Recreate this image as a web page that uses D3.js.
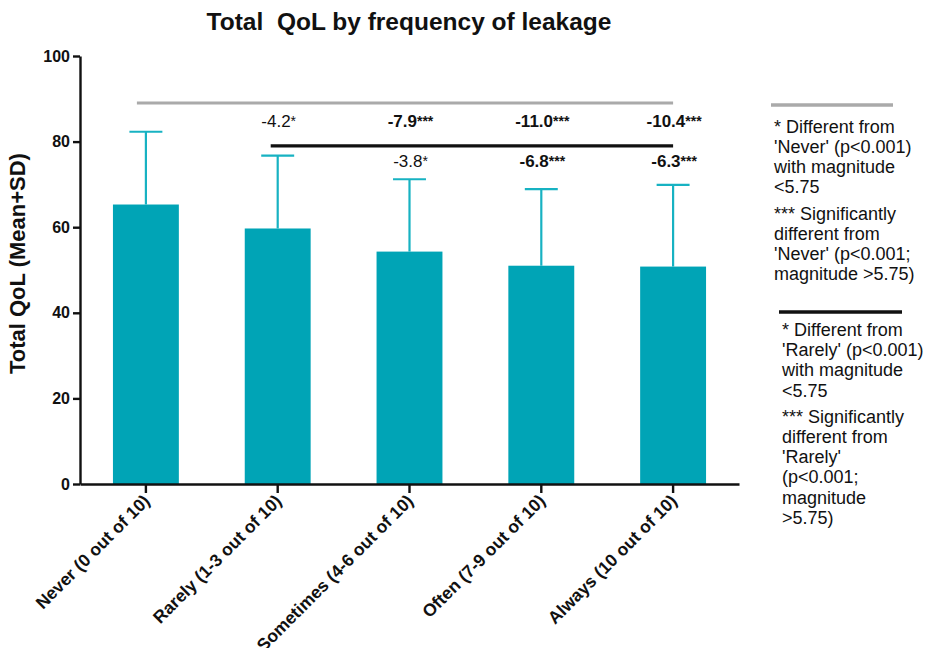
<!DOCTYPE html>
<html>
<head>
<meta charset="utf-8">
<script src="https://cdn.jsdelivr.net/npm/d3@7"></script>
<style>
  body { margin: 0; background: #fff; }
  svg { display: block; font-family: "Liberation Sans", Arial, sans-serif; }
</style>
</head>
<body>
<svg id="chart" width="930" height="648"></svg>
<script>
// ---- data ----
const categories = ["Never (0 out of 10)", "Rarely (1-3 out of 10)", "Sometimes (4-6 out of 10)", "Often (7-9 out of 10)", "Always (10 out of 10)"];
const means = [65.3, 59.7, 54.3, 51.0, 50.8];
const sds   = [17.0, 17.0, 16.9, 17.9, 19.1];
const yTicks = [0, 20, 40, 60, 80, 100];

// comparisons vs 'Never' (gray bar) and vs 'Rarely' (black bar)
const vsNeverCats   = ["Rarely (1-3 out of 10)", "Sometimes (4-6 out of 10)", "Often (7-9 out of 10)", "Always (10 out of 10)"];
const vsNeverDiff   = ["-4.2", "-7.9", "-11.0", "-10.4"];
const vsNeverSig    = ["*", "***", "***", "***"];
const vsRarelyCats  = ["Sometimes (4-6 out of 10)", "Often (7-9 out of 10)", "Always (10 out of 10)"];
const vsRarelyDiff  = ["-3.8", "-6.8", "-6.3"];
const vsRarelySig   = ["*", "***", "***"];

const legendNever  = ["* Different from", "'Never' (p<0.001)", "with magnitude", "<5.75", "*** Significantly", "different from", "'Never' (p<0.001;", "magnitude >5.75)"];
const legendRarely = ["* Different from", "'Rarely' (p<0.001)", "with magnitude", "<5.75", "*** Significantly", "different from", "'Rarely'", "(p<0.001;", "magnitude", ">5.75)"];

// ---- layout ----
const svg = d3.select("#chart");
const teal = "#00a4b6";
const tealErr = "#17b2c2";

const x = d3.scaleBand().domain(categories).range([80, 739]).paddingInner(0.5).paddingOuter(0.25);
const y = d3.scaleLinear().domain([0, 100]).range([484, 56]);

// title
svg.append("text")
  .attr("x", 409).attr("y", 30)
  .attr("text-anchor", "middle")
  .attr("font-size", 24.5).attr("font-weight", "bold")
  .attr("fill", "#111")
  .style("white-space", "pre")
  .text("Total  QoL by frequency of leakage");

// bars
svg.append("g").selectAll("rect")
  .data(categories)
  .join("rect")
  .attr("x", d => x(d))
  .attr("width", x.bandwidth())
  .attr("y", (d, i) => y(means[i]))
  .attr("height", (d, i) => y(0) - y(means[i]))
  .attr("fill", teal);

// error bars
const eb = svg.append("g").attr("stroke", tealErr).attr("stroke-width", 2.2).attr("fill", "none");
categories.forEach((c, i) => {
  const cx = x(c) + x.bandwidth() / 2;
  eb.append("line").attr("x1", cx).attr("x2", cx).attr("y1", y(means[i])).attr("y2", y(means[i] + sds[i]));
  eb.append("line").attr("x1", cx - x.bandwidth() / 4).attr("x2", cx + x.bandwidth() / 4)
    .attr("y1", y(means[i] + sds[i])).attr("y2", y(means[i] + sds[i]));
});

// axes
const yAxis = svg.append("g").attr("transform", "translate(80,0)")
  .call(d3.axisLeft(y).tickValues(yTicks).tickSize(7).tickSizeOuter(0).tickPadding(3));
const xAxis = svg.append("g").attr("transform", "translate(0,484)")
  .call(d3.axisBottom(x).tickSize(9).tickSizeOuter(0).tickFormat(""));
[yAxis, xAxis].forEach(a => {
  a.select(".domain").attr("stroke", "#111").attr("stroke-width", 2.4);
  a.selectAll(".tick line").attr("stroke", "#111").attr("stroke-width", 2.4);
});
yAxis.selectAll(".tick text").attr("font-size", 16).attr("font-weight", "bold").attr("fill", "#111")
  .attr("font-family", "Liberation Sans, Arial, sans-serif");

// rotated x labels
svg.append("g").selectAll("text")
  .data(categories)
  .join("text")
  .attr("transform", d => `translate(${x(d) + x.bandwidth() / 2 + 5},${502}) rotate(-45)`)
  .attr("text-anchor", "end")
  .attr("font-size", 17.5).attr("font-weight", "bold").attr("fill", "#111")
  .text(d => d);

// y axis title
svg.append("text")
  .attr("transform", `translate(25,${y(51.5)}) rotate(-90)`)
  .attr("text-anchor", "middle")
  .attr("font-size", 22).attr("font-weight", "bold").attr("fill", "#111")
  .text("Total QoL (Mean+SD)");

// comparison bars
const cx = c => x(c) + x.bandwidth() / 2;
svg.append("line")
  .attr("x1", cx(categories[0]) - 9).attr("x2", cx(categories[4]))
  .attr("y1", y(89)).attr("y2", y(89))
  .attr("stroke", "#aaaaaa").attr("stroke-width", 3);
svg.append("line")
  .attr("x1", cx(categories[1]) - 7).attr("x2", cx(categories[4]))
  .attr("y1", y(79)).attr("y2", y(79))
  .attr("stroke", "#111").attr("stroke-width", 3.2);

function annot(cats, diffs, sigs, yv) {
  cats.forEach((c, i) => {
    const t = svg.append("text")
      .attr("x", cx(c) + 1).attr("y", y(yv))
      .attr("text-anchor", "middle")
      .attr("font-size", 17)
      .attr("font-weight", sigs[i] === "***" ? "bold" : "normal")
      .attr("fill", "#111");
    t.append("tspan").text(diffs[i]);
    t.append("tspan").attr("font-size", 14).attr("dy", -1).text(sigs[i]);
  });
}
annot(vsNeverCats, vsNeverDiff, vsNeverSig, 83.3);
annot(vsRarelyCats, vsRarelyDiff, vsRarelySig, 74.0);

// legend
svg.append("line").attr("x1", 771).attr("x2", 893).attr("y1", 105).attr("y2", 105)
  .attr("stroke", "#aaaaaa").attr("stroke-width", 3.5);
svg.append("line").attr("x1", 779).attr("x2", 902).attr("y1", 312).attr("y2", 312)
  .attr("stroke", "#111").attr("stroke-width", 3.5);

function legendBlock(lines, x0, y0, gapAfter, lh, gap) {
  const g = svg.append("g").attr("font-size", 18).attr("fill", "#111");
  let yy = y0;
  lines.forEach((l, i) => {
    if (i === gapAfter) yy += gap;
    g.append("text").attr("x", x0).attr("y", yy).text(l);
    yy += lh;
  });
}
legendBlock(legendNever, 774, 133, 4, 20, 7);
legendBlock(legendRarely, 782, 336, 4, 20.2, 6);
</script>
</body>
</html>
